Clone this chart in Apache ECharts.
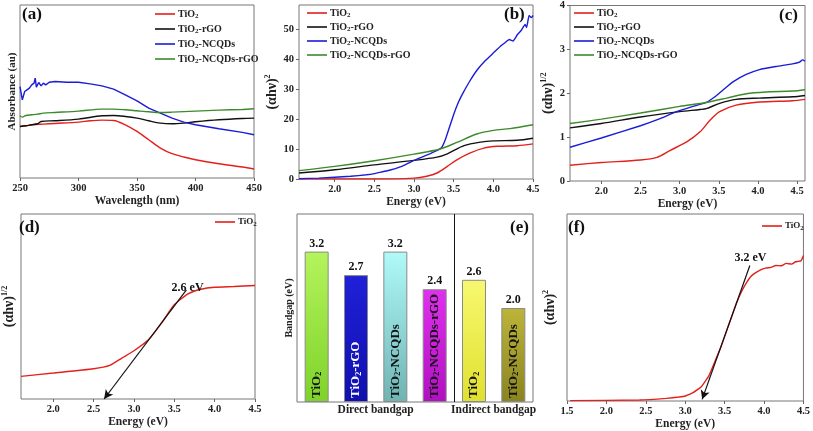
<!DOCTYPE html>
<html><head><meta charset="utf-8">
<script src="https://cdn.jsdelivr.net/npm/echarts@6/dist/echarts.min.js"></script>
<style>html,body{margin:0;padding:0;background:#fff}#c{width:813px;height:431px}</style>
</head><body><div id="c"></div>
<script>
// ---------- DATA ----------
const seriesNames = ['TiO2', 'TiO2-rGO', 'TiO2-NCQDs', 'TiO2-NCQDs-rGO'];
// (a) absorbance vs wavelength (arbitrary units)
const aWaveTicks = [250, 300, 350, 400, 450];
const aRedX = [250,255,260,270,280,300,310,320,330,340,350,360,370,380,390,400,420,440,450];
const aRedY = [1.55,1.57,1.60,1.62,1.64,1.68,1.72,1.74,1.73,1.60,1.40,1.15,0.90,0.73,0.63,0.55,0.43,0.33,0.27];
const aBlackX = [250,255,260,265,268,280,300,320,330,340,350,360,370,380,390,400,420,440,450];
const aBlackY = [1.55,1.57,1.60,1.63,1.70,1.72,1.77,1.87,1.88,1.85,1.80,1.72,1.65,1.63,1.65,1.69,1.75,1.79,1.80];
const aBlueX = [250,252,254,256,258,260,262,263,264,266,268,270,272,275,280,290,300,310,320,330,340,350,360,370,380,390,400,420,440,450];
const aBlueY = [2.75,2.35,2.60,2.65,2.70,2.80,2.85,3.00,2.73,2.87,2.77,2.85,2.80,2.88,2.90,2.88,2.88,2.83,2.77,2.67,2.50,2.32,2.10,1.95,1.80,1.68,1.60,1.48,1.37,1.30];
const aGreenX = [250,252,255,260,265,270,280,300,320,330,340,350,360,370,380,400,420,440,450];
const aGreenY = [1.87,1.83,1.88,1.90,1.92,1.95,1.97,2.01,2.07,2.07,2.05,2.02,1.99,1.97,1.98,2.01,2.04,2.06,2.08];
// (b) (ahv)^2 vs energy
const energyTicks = [2.0, 2.5, 3.0, 3.5, 4.0, 4.5];
const bYTicks = [0, 10, 20, 30, 40, 50];
const bRedX = [1.55,2.5,3.0,3.16,3.29,3.42,3.54,3.71,3.88,4.05,4.3,4.5];
const bRedY = [0,0,0.3,0.9,2.0,4.2,6.4,8.7,10.3,10.9,11.1,11.7];
const bBlackX = [1.55,2.0,2.5,3.0,3.29,3.42,3.63,3.84,4.0,4.3,4.5];
const bBlackY = [2.0,3.1,4.7,6.2,7.3,8.4,11.1,12.3,12.7,12.9,13.6];
const bBlueX = [1.55,1.8,2.0,2.2,2.4,2.5,2.6,2.7,2.8,2.9,3.0,3.1,3.2,3.3,3.35,3.4,3.45,3.5,3.55,3.6,3.7,3.8,3.9,4.0,4.1,4.15,4.2,4.25,4.3,4.35,4.4,4.42,4.45,4.48,4.5];
const bBlueY = [0.1,0.3,0.6,0.9,1.4,1.8,2.4,3.0,3.8,4.9,6.2,7.3,8.4,9.6,10.5,13.5,17.5,21.5,25,27.8,32.5,36.5,39.5,42.0,44.5,45.5,46.5,46.0,48.0,49.5,51.5,50.5,54.5,53.8,54.5];
const bGreenX = [1.55,2.0,2.5,3.0,3.33,3.54,3.79,4.0,4.21,4.5];
const bGreenY = [2.8,4.2,6.1,8.3,10,12.2,15,16.2,16.8,18.1];
// (c) (ahv)^1/2 vs energy
const cYTicks = [0, 1, 2, 3, 4];
const cRedX = [1.6,2.0,2.5,2.71,2.88,3.09,3.26,3.39,3.51,3.72,4.02,4.44,4.6];
const cRedY = [0.36,0.42,0.48,0.54,0.70,0.89,1.12,1.39,1.58,1.73,1.80,1.83,1.86];
const cBlackX = [1.6,2.0,2.5,3.0,3.26,3.34,3.51,3.72,4.02,4.44,4.6];
const cBlackY = [1.21,1.31,1.46,1.58,1.63,1.65,1.77,1.86,1.89,1.92,1.95];
const cBlueX = [1.6,2.0,2.5,2.75,2.96,3.15,3.34,3.45,3.55,3.68,3.85,4.02,4.23,4.44,4.53,4.57,4.6];
const cBlueY = [0.77,0.98,1.26,1.42,1.58,1.69,1.79,1.92,2.07,2.26,2.43,2.54,2.61,2.67,2.71,2.76,2.73];
const cGreenX = [1.6,2.0,2.5,3.0,3.34,3.6,3.85,4.1,4.44,4.6];
const cGreenY = [1.31,1.41,1.55,1.70,1.79,1.89,1.99,2.03,2.05,2.08];
// (d) TiO2 indirect (arb. units) + tangent
const dX = [1.6,2.0,2.5,2.7,2.85,3.0,3.18,3.34,3.5,3.67,3.83,4.0,4.24,4.5];
const dY = [0.68,0.78,0.91,1.01,1.23,1.45,1.78,2.28,2.83,3.16,3.30,3.36,3.38,3.41];
const dTangent = [[2.63, 0], [3.65, 3.28]];
const dLabel = '2.6 eV';
// (e) bandgaps
const eNames = ['TiO2', 'TiO2-rGO', 'TiO2-NCQDs', 'TiO2-NCQDs-rGO', 'TiO2', 'TiO2-NCQDs'];
const eValues = [3.2, 2.7, 3.2, 2.4, 2.6, 2.0];
const eGroups = ['Direct bandgap', 'Indirect bandgap'];
const eGroupSizes = [4, 2];
// (f) TiO2 direct (arb. units) + tangent
const fX = [1.54,2.42,2.76,2.92,3.0,3.1,3.2,3.3,3.38,3.45,3.55,3.65,3.72,3.78,3.83,3.88,3.95,4.02,4.09,4.15,4.22,4.28,4.35,4.4,4.43,4.47,4.5];
const fY = [0.01,0.03,0.08,0.12,0.15,0.25,0.42,0.75,1.2,1.6,2.27,2.93,3.3,3.55,3.72,3.82,3.92,3.98,4.00,4.06,4.05,4.12,4.10,4.17,4.18,4.20,4.36];
const fTicks = [1.5, 2.0, 2.5, 3.0, 3.5, 4.0, 4.5];
const fTangent = [[3.215, 0.05], [3.82, 4.06]];
const fLabel = '3.2 eV';

// ---------- STYLE ----------
const FONT = 'Liberation Serif';
const COLORS = {'TiO2': '#e3201b', 'TiO2-rGO': '#111111', 'TiO2-NCQDs': '#1b1bd8', 'TiO2-NCQDs-rGO': '#3c8a2c'};
const barColors = [['#b4f45c', '#7ed22a'], ['#2020d8', '#1010b0'], ['#b0fafa', '#6fb3b3'], ['#e030ee', '#b010c0'], ['#f8f870', '#e0e030'], ['#bdb43a', '#8a8420']];
const barTextColors = ['#111', '#fff', '#111', '#111', '#111', '#111'];
const subRich = {sub: {fontFamily: FONT, fontWeight: 'bold', fontSize: 7, verticalAlign: 'bottom', padding: [5, 0, 0, 0]}};
const subName = n => n.replace('TiO2', 'TiO{sub|2}');
const zip = (xs, ys) => xs.map((x, i) => [x, ys[i]]);
const lbl = {fontFamily: FONT, fontWeight: 'bold', fontSize: 10.5, color: '#222'};

const grids = [
  {left: 20, top: 5, width: 234, height: 173},
  {left: 299, top: 5, width: 234, height: 174},
  {left: 570, top: 5, width: 235, height: 176},
  {left: 18, top: 214, width: 237, height: 185},
  {left: 297, top: 214, width: 236, height: 188},
  {left: 567, top: 214, width: 239, height: 187}
].map(g => Object.assign({show: true, borderColor: '#777', borderWidth: 1, backgroundColor: 'transparent'}, g));

function xAx(gi, min, max, ticks, name, fmt, gap) {
  return {type: 'value', gridIndex: gi, min, max, splitLine: {show: false}, axisLine: {show: false},
    axisTick: {show: true, length: 3, lineStyle: {color: '#666'}, customValues: ticks},
    axisLabel: Object.assign({margin: 5, customValues: ticks, formatter: fmt}, lbl),
    name, nameLocation: 'middle', nameGap: gap,
    nameTextStyle: {fontFamily: FONT, fontWeight: 'bold', fontSize: 11.5, color: '#222'}};
}
function yAx(gi, min, max, ticks, name, gap, fs) {
  const o = {type: 'value', gridIndex: gi, min, max, splitLine: {show: false}, axisLine: {show: false},
    axisTick: {show: !!ticks, length: 3, lineStyle: {color: '#666'}, customValues: ticks || []},
    axisLabel: Object.assign({show: !!ticks, margin: 5, customValues: ticks || []}, lbl),
    name, nameLocation: 'middle', nameGap: gap,
    nameTextStyle: {fontFamily: FONT, fontWeight: 'bold', fontSize: fs || 14, color: '#222',
      rich: {sup: {fontFamily: FONT, fontWeight: 'bold', fontSize: 8, verticalAlign: 'top', padding: [0, 0, 9, 0]}}}};
  return o;
}
const eFmt = v => v.toFixed(1);

// group label centres for panel (e) from group sizes
const eGroupCenters = [];
{ let s = 0; eGroupSizes.forEach(n => { eGroupCenters.push(s + (n - 1) / 2); s += n; }); }

const xAxes = [
  xAx(0, 250, 450, aWaveTicks, 'Wavelength (nm)', v => String(v), 14),
  xAx(1, 1.55, 4.5, energyTicks, 'Energy (eV)', eFmt, 16),
  xAx(2, 1.6, 4.6, energyTicks, 'Energy (eV)', eFmt, 14),
  xAx(3, 1.6, 4.5, energyTicks, 'Energy (eV)', eFmt, 15),
  {type: 'value', gridIndex: 4, min: -0.5, max: eValues.length - 0.5, splitLine: {show: false}, axisLine: {show: false},
    axisTick: {show: false},
    axisLabel: {show: true, customValues: eGroupCenters, margin: 2, fontFamily: FONT, fontWeight: 'bold', fontSize: 11.5, color: '#222',
      formatter: v => eGroups[eGroupCenters.indexOf(v)] || ''}},
  xAx(5, 1.5, 4.5, fTicks, 'Energy (eV)', eFmt, 15)
];
const yAxes = [
  yAx(0, 0, 5.2, null, 'Absorbance (au)', 2, 11),
  yAx(1, 0, 58, bYTicks, '(αhν){sup|2}', 16),
  yAx(2, 0, 4, cYTicks, '(αhν){sup|1/2}', 12),
  yAx(3, 0, 5.56, null, '(αhν){sup|1/2}', 3),
  yAx(4, 0, 4, null, 'Bandgap (eV)', 3, 10),
  yAx(5, 0, 5.6, null, '(αhν){sup|2}', 8)
];

function line(name, gi, xs, ys, extra) {
  return Object.assign({type: 'line', name, xAxisIndex: gi, yAxisIndex: gi, data: zip(xs, ys),
    symbol: 'none', smooth: 0.3, lineStyle: {width: 1.4, color: COLORS[name]}, itemStyle: {color: COLORS[name]},
    animation: false, silent: true}, extra || {});
}
function tangent(pts, text) {
  return {markLine: {silent: true, animation: false, symbol: ['arrow', 'none'], symbolSize: [7, 9],
    lineStyle: {color: '#111', width: 1.2, type: 'solid'},
    label: {show: true, position: 'end', formatter: text, fontFamily: FONT, fontWeight: 'bold', fontSize: 12, color: '#111', distance: 2},
    data: [[{coord: pts[0]}, {coord: pts[1]}]]}};
}

const series = [
  line('TiO2', 0, aRedX, aRedY), line('TiO2-rGO', 0, aBlackX, aBlackY),
  line('TiO2-NCQDs', 0, aBlueX, aBlueY, {smooth: false}), line('TiO2-NCQDs-rGO', 0, aGreenX, aGreenY),
  line('TiO2', 1, bRedX, bRedY), line('TiO2-rGO', 1, bBlackX, bBlackY),
  line('TiO2-NCQDs', 1, bBlueX, bBlueY, {smooth: 0.1}), line('TiO2-NCQDs-rGO', 1, bGreenX, bGreenY),
  line('TiO2', 2, cRedX, cRedY), line('TiO2-rGO', 2, cBlackX, cBlackY),
  line('TiO2-NCQDs', 2, cBlueX, cBlueY, {smooth: 0.2}), line('TiO2-NCQDs-rGO', 2, cGreenX, cGreenY),
  line('TiO2', 3, dX, dY, Object.assign({smooth: 0.2}, tangent(dTangent, dLabel))),
  line('TiO2', 5, fX, fY, Object.assign({smooth: 0.1}, tangent(fTangent, fLabel))),
  {type: 'bar', name: 'bandgap', xAxisIndex: 4, yAxisIndex: 4, barWidth: 24, animation: false, silent: true,
    data: eValues.map((v, i) => ({value: [i, v], itemStyle: {
      color: {type: 'linear', x: 0, y: 0, x2: 0, y2: 1, colorStops: [{offset: 0, color: barColors[i][0]}, {offset: 1, color: barColors[i][1]}]},
      borderColor: '#8a8a8a', borderWidth: 1}})),
    label: {show: true, position: 'top', distance: 2, formatter: p => p.value[1].toFixed(1), fontFamily: FONT, fontWeight: 'bold', fontSize: 12, color: '#111'},
    markLine: {silent: true, animation: false, symbol: 'none', lineStyle: {color: '#111', width: 1, type: 'solid'}, label: {show: false},
      data: [{xAxis: eGroupSizes[0] - 0.5}]}},
  {type: 'bar', name: 'bandgapLabel', xAxisIndex: 4, yAxisIndex: 4, barWidth: 24, barGap: '-100%', animation: false, silent: true,
    data: eValues.map((v, i) => ({value: [i, v], itemStyle: {color: 'rgba(0,0,0,0)'},
      label: {color: barTextColors[i]}})),
    label: {show: true, position: 'insideBottom', rotate: 90, align: 'left', verticalAlign: 'middle', distance: 4,
      formatter: p => subName(eNames[p.dataIndex]), fontFamily: FONT, fontWeight: 'bold', fontSize: 13,
      rich: {sub: {fontFamily: FONT, fontWeight: 'bold', fontSize: 8, verticalAlign: 'bottom', padding: [5, 0, 0, 0]}}}}
];

function legend(data, left, top, gap, fs) {
  return {data, left, top, orient: 'vertical', itemWidth: 20, itemHeight: 8, itemGap: gap, selectedMode: false,
    formatter: n => subName(n), icon: 'path://M0,4L20,4L20,5.6L0,5.6Z',
    textStyle: {fontFamily: FONT, fontWeight: 'bold', fontSize: fs, color: '#222', lineHeight: 12, padding: [0, 0, 0, -2], rich: subRich}};
}

const titles = [['(a)', 22, 6], ['(b)', 504, 6], ['(c)', 779, 7], ['(d)', 19, 219], ['(e)', 510, 219], ['(f)', 568, 219]]
  .map(([t, l, tp]) => ({text: t, left: l, top: tp, padding: 0, textStyle: {fontFamily: FONT, fontWeight: 'bold', fontSize: 17, color: '#111'}}));

const chart = echarts.init(document.getElementById('c'), null, {renderer: 'canvas'});
chart.setOption({
  backgroundColor: '#fff',
  animation: false,
  title: titles,
  grid: grids,
  xAxis: xAxes,
  yAxis: yAxes,
  legend: [
    legend(seriesNames, 150, 3, 3, 10),
    legend(seriesNames, 302, 2, 2, 10),
    legend(seriesNames, 569, 2, 2, 10),
    legend(['TiO2'], 210, 211, 2, 9),
    legend(['TiO2'], 757, 215, 2, 9)
  ],
  series
});
</script></body></html>
